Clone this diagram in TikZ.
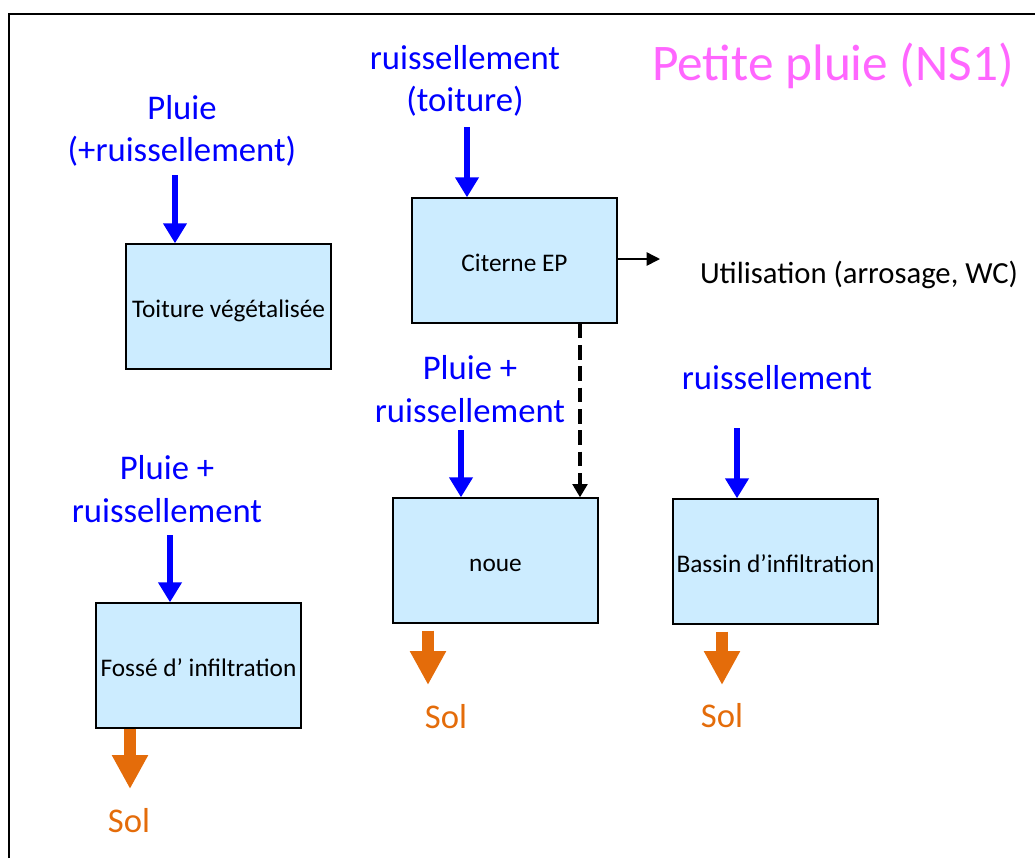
\documentclass[tikz,border=0pt]{standalone}
\usepackage{fontspec}
\setmainfont{Carlito}
\usetikzlibrary{arrows.meta}
\definecolor{boxfill}{HTML}{CCECFF}
\definecolor{rainblue}{HTML}{0000FF}
\definecolor{solorange}{HTML}{E46C0A}
\definecolor{titlepink}{HTML}{FF66FF}
\begin{document}
\begin{tikzpicture}[x=0.75pt,y=-0.75pt,
 box/.style={draw=black,line width=1pt,fill=boxfill,minimum width=153.75pt,minimum height=93.75pt,inner sep=0pt,text height=16pt,text depth=0pt,font=\fontsize{19}{23}\selectfont},
 rainlabel/.style={text=rainblue,align=center,font=\fontsize{26}{32}\selectfont},
 sollabel/.style={text=solorange,font=\fontsize{26}{32}\selectfont,anchor=base},
 rainarrow/.style={draw=rainblue,line width=4.5pt,-{Triangle[length=15pt,width=17pt]}},
 solarrow/.style={draw=solorange,line width=8.5pt,-{Triangle[length=25.5pt,width=25.5pt]}},
 usearrow/.style={draw=black,line width=1.1pt,-{Triangle[length=10pt,width=10pt]}},
 overflow/.style={draw=black,line width=3pt,dash pattern=on 11pt off 5pt,-{Triangle[length=10pt,width=11pt]}},
]
\useasboundingbox (0,0) rectangle (1035,858);
\draw[line width=1.5pt] (8.5,858) -- (8.5,14) -- (1035,14);

\node[text=titlepink,anchor=base,font=\fontsize{38.5}{46}\selectfont] (title) at (833,80) {Petite pluie (NS1)};

\node[box] (toit) at (228.5,306.5) {Toiture végétalisée};
\node[box] (cit) at (514.5,260.5) {Citerne EP};
\node[box] (noue) at (495.5,560.5) {noue};
\node[box] (bassin) at (775.5,561.5) {Bassin d’infiltration};
\node[box] (fosse) at (198.5,665.5) {Fossé d’ infiltration};

\node[rainlabel] (l1) at (182,131) {Pluie\\(+ruissellement)};
\node[rainlabel] (l2) at (465,81) {ruissellement\\(toiture)};
\node[rainlabel] (l3) at (470,389) {Pluie +\\ruissellement};
\node[rainlabel,anchor=base] (l4) at (777,389) {ruissellement};
\node[rainlabel] (l5) at (167,489) {Pluie +\\ruissellement};

\coordinate (a1) at (175,175);
\coordinate (a2) at (467,127);
\coordinate (a3) at (461,430);
\coordinate (a4) at (737,428);
\coordinate (a5) at (170,535);
\draw[rainarrow] (a1) -- (a1 |- toit.north);
\draw[rainarrow] (a2) -- (a2 |- cit.north);
\draw[rainarrow] (a3) -- (a3 |- noue.north);
\draw[rainarrow] (a4) -- (a4 |- bassin.north);
\draw[rainarrow] (a5) -- (a5 |- fosse.north);

\node[anchor=base,font=\fontsize{23}{28}\selectfont] (util) at (859,283) {Utilisation (arrosage, WC)};
\coordinate (u) at (660,259);
\draw[usearrow] (cit.east |- u) -- (u);

\coordinate (d) at (580,0);
\draw[overflow] (cit.south -| d) -- (noue.north -| d);

\node[sollabel] (sol1) at (129,832) {Sol};
\node[sollabel] (sol2) at (446,728) {Sol};
\node[sollabel] (sol3) at (722,727) {Sol};
\coordinate (o1) at (130,789);
\coordinate (o2) at (428,685);
\coordinate (o3) at (722,685);
\draw[solarrow] (fosse.south -| o1) -- (o1);
\draw[solarrow,shorten <=5.25pt] (noue.south -| o2) -- (o2);
\draw[solarrow,shorten <=5.25pt] (bassin.south -| o3) -- (o3);
\end{tikzpicture}
\end{document}
